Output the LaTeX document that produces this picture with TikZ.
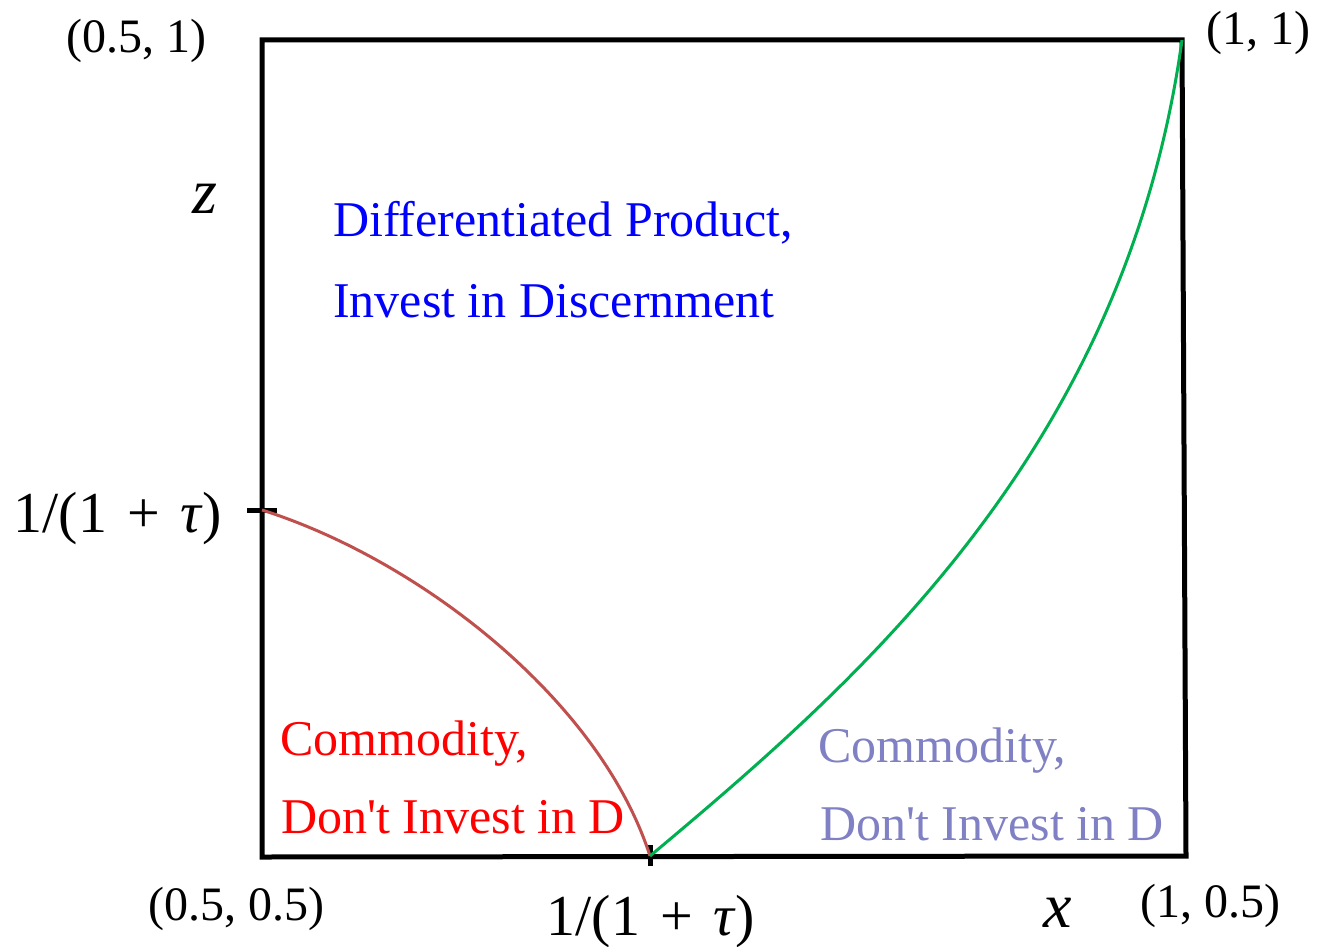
\documentclass[tikz,border=0pt]{standalone}
\usepackage{fontspec}
\setmainfont{Liberation Serif}
\definecolor{regionblue}{RGB}{0,0,255}
\definecolor{regionred}{RGB}{255,0,0}
\definecolor{regionlilac}{RGB}{128,128,196}
\definecolor{curvered}{RGB}{192,80,77}
\definecolor{curvegreen}{RGB}{0,176,80}
\newcommand{\taucut}{1/(1\hspace{0.35em}+\hspace{0.35em}\textit{τ})}
\tikzset{
  regiontext/.style={anchor=base west, inner sep=0pt, font=\fontsize{50}{60}\selectfont},
  cornerlabel/.style={anchor=base, inner sep=0pt, font=\fontsize{48}{56}\selectfont},
  ticklabel/.style={anchor=base, inner sep=0pt, font=\fontsize{58}{68}\selectfont},
  axislabel/.style={anchor=base, inner sep=0pt, font=\fontsize{64}{74}\selectfont\itshape},
  boxline/.style={line width=5pt, line join=miter},
  tickline/.style={line width=5pt},
  boundary/.style={line width=3pt}
}
\begin{document}
\begin{tikzpicture}[x=1pt,y=-1pt]
\useasboundingbox (0,0) rectangle (1319,947);
\coordinate (tl) at (262,40);
\coordinate (tr) at (1182,40);
\coordinate (br) at (1186,856);
\coordinate (bl) at (262,857);
\coordinate (zcut) at (262,510);
\coordinate (xcut) at (650,856);
\draw[boxline] (tl) -- (tr) -- (br) -- (bl) -- cycle;
\draw[tickline] (247,510) -- (277,510);
\draw[tickline] (650,845) -- (650,866);
\draw[boundary, curvered] (zcut) .. controls (420,560) and (600,700) .. (xcut);
\draw[boundary, curvegreen] (xcut) .. controls (860,680) and (1125,450) .. (tr);
\node[regiontext, text=regionblue] (diff1) at (333,236) {Differentiated Product,};
\node[regiontext, text=regionblue] (diff2) at (333,317) {Invest in Discernment};
\node[regiontext, text=regionred] (comL1) at (280,755) {Commodity,};
\node[regiontext, text=regionred] (comL2) at (281,833) {Don\textquotesingle t Invest in D};
\node[regiontext, text=regionlilac] (comR1) at (818,762) {Commodity,};
\node[regiontext, text=regionlilac] (comR2) at (820,840) {Don\textquotesingle t Invest in D};
\node[cornerlabel] (lbltl) at (136,53) {(0.5, 1)};
\node[cornerlabel] (lbltr) at (1258,45) {(1, 1)};
\node[cornerlabel] (lblbl) at (236,920) {(0.5, 0.5)};
\node[cornerlabel] (lblbr) at (1210,917) {(1, 0.5)};
\node[ticklabel] (lblz) at (118,532) {\taucut};
\node[ticklabel] (lblx) at (651,935) {\taucut};
\node[axislabel] (axz) at (205,213) {z};
\node[axislabel] (axx) at (1058,927) {x};
\end{tikzpicture}
\end{document}
